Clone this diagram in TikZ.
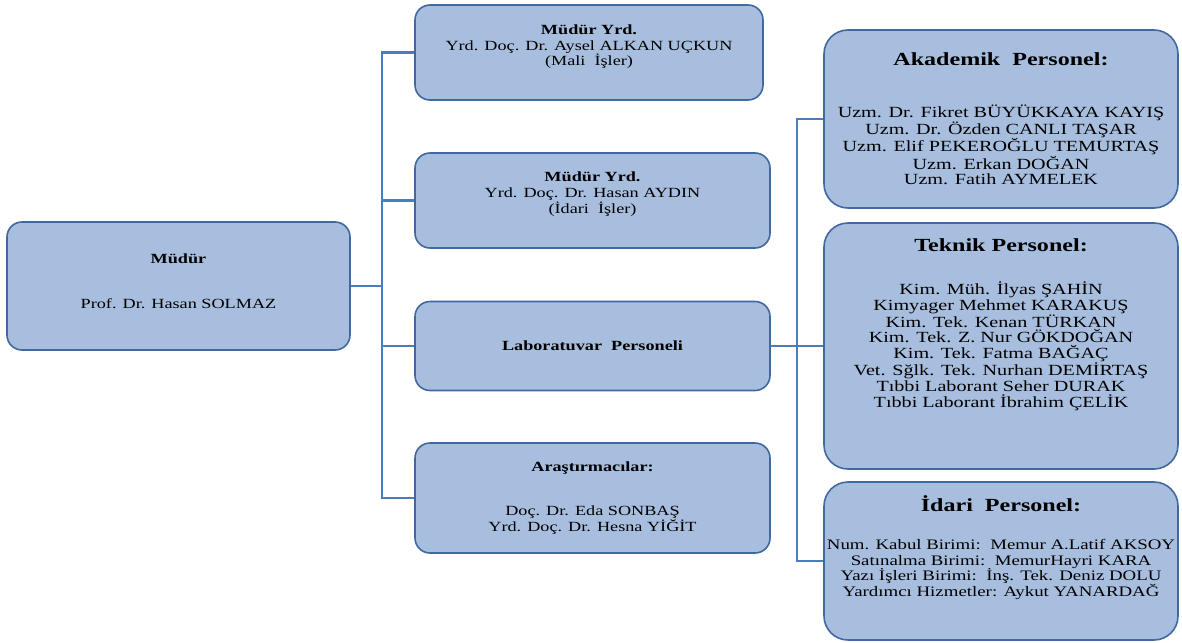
\documentclass[tikz,border=0pt]{standalone}
\usepackage{fontspec}
\setmainfont{Liberation Serif}[FakeStretch=1.3]
\definecolor{boxfill}{RGB}{168,190,222}
\definecolor{boxline}{RGB}{66,104,160}
\definecolor{linkcol}{RGB}{74,124,190}
\newcommand{\bigttl}[1]{{\fontsize{18.5}{15.7}\selectfont\bfseries #1}}

\begin{document}
\begin{tikzpicture}[x=1pt,y=-1pt]
      \tikzset{
        box/.style={draw=boxline,fill=boxfill,line width=1.6pt,rounded corners=15pt,
          align=center,inner sep=0pt,font=\fontsize{14}{15.7}\selectfont},
        bigbox/.style={box,rounded corners=24pt,font=\fontsize{15.5}{15.7}\selectfont},
        link/.style={draw=linkcol,line width=2.4pt}
      }
      \useasboundingbox (0,0) rectangle (1182,642);

      \node[box,minimum width=343pt,minimum height=128pt] (mudur) at (178.5,286)
        {\textbf{Müdür}\\[29pt]Prof. Dr. Hasan SOLMAZ\\[-6pt]\mbox{}};
      \node[box,minimum width=348pt,minimum height=95pt] (yrd1) at (589,52.5)
        {\textbf{Müdür Yrd.}\\Yrd. Doç. Dr. Aysel ALKAN UÇKUN\\(Mali\ \ İşler)\\[-1pt]\mbox{}};
      \node[box,minimum width=355pt,minimum height=95pt] (yrd2) at (592.5,200.5)
        {\textbf{Müdür Yrd.}\\Yrd. Doç. Dr. Hasan AYDIN\\(İdari\ \ İşler)\\[0pt]\mbox{}};
      \node[box,minimum width=355pt,minimum height=89pt] (lab) at (592.5,346)
        {\textbf{Laboratuvar\ \ Personeli}};
      \node[box,minimum width=355pt,minimum height=110pt] (arastirma) at (592.5,498)
        {\textbf{Araştırmacılar:}\\[29pt]Doç. Dr. Eda SONBAŞ\\Yrd. Doç. Dr. Hesna YİĞİT};

      \node[bigbox,minimum width=354pt,minimum height=178pt] (akademik) at (1001,119)
        {\bigttl{Akademik\ \ Personel:}\\[36pt]Uzm. Dr. Fikret BÜYÜKKAYA KAYIŞ\\
         Uzm. Dr. Özden CANLI TAŞAR\\Uzm. Elif PEKEROĞLU TEMURTAŞ\\
         Uzm. Erkan DOĞAN\\Uzm. Fatih AYMELEK};
      \node[bigbox,minimum width=354pt,minimum height=246pt] (teknik) at (1001,346)
        {\bigttl{Teknik Personel:}\\[27pt]Kim. Müh. İlyas ŞAHİN\\Kimyager Mehmet KARAKUŞ\\
         Kim. Tek. Kenan TÜRKAN\\Kim. Tek. Z. Nur GÖKDOĞAN\\Kim. Tek. Fatma BAĞAÇ\\
         Vet. Sğlk. Tek. Nurhan DEMİRTAŞ\\Tıbbi Laborant Seher DURAK\\
         Tıbbi Laborant İbrahim ÇELİK\\[30pt]\mbox{}};
      \node[bigbox,minimum width=354pt,minimum height=158pt,
            font=\fontsize{14.5}{15.7}\selectfont] (idari) at (1001,561)
        {\bigttl{İdari\ \ Personel:}\\[22pt]Num. Kabul Birimi:\ \ Memur A.Latif AKSOY\\
         Satınalma Birimi:\ \ MemurHayri KARA\\Yazı İşleri Birimi:\ \ İnş. Tek. Deniz DOLU\\
         Yardımcı Hizmetler: Aykut YANARDAĞ\\[14pt]\mbox{}};

      \coordinate (trunkL) at (382,0);
      \coordinate (trunkR) at (797,0);

      \draw[link] (mudur.east) -- (mudur.east -| trunkL)
            (yrd1.west) -| (trunkL |- arastirma.west) -- (arastirma.west)
            (yrd2.west) -- (yrd2.west -| trunkL)
            (lab.west) -- (lab.west -| trunkL);
      \draw[link] (lab.east) -- (teknik.west)
            (akademik.west) -| (trunkR |- idari.west) -- (idari.west);
    \end{tikzpicture}
\end{document}
